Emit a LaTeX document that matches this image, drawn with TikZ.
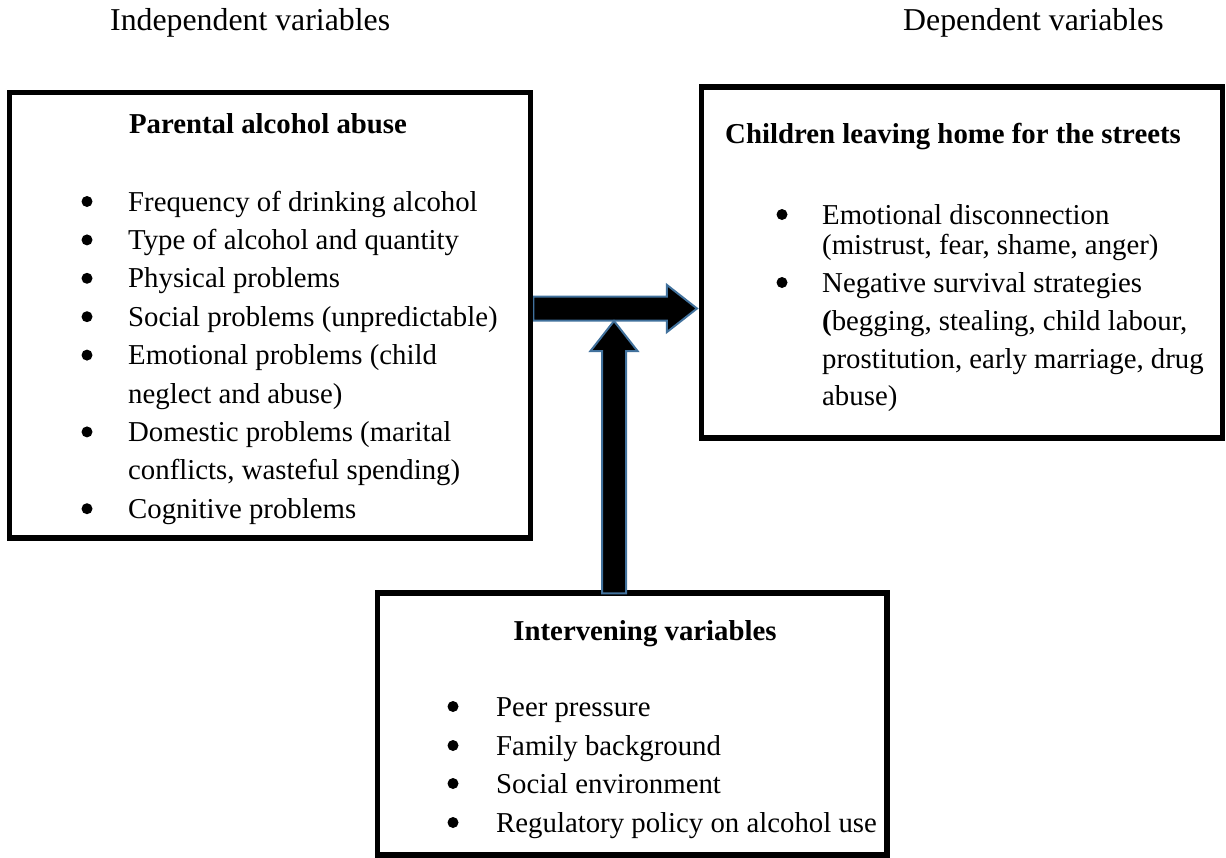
\documentclass[tikz,border=0pt]{standalone}
\usepackage{fontspec}
\setmainfont{Liberation Serif}
\usetikzlibrary{calc}
\definecolor{arrowblue}{RGB}{65,113,156}
\begin{document}
\begin{tikzpicture}[x=1pt,y=-1pt,
  box/.style={draw=black,line width=5.5pt,inner sep=0pt},
  txt/.style={anchor=base west,inner sep=0pt,font=\fontsize{28.8}{34}\selectfont},
  ttl/.style={inner sep=0pt,font=\fontsize{28.8}{34}\selectfont\bfseries},
  hdr/.style={anchor=base west,inner sep=0pt,font=\fontsize{31.8}{36}\selectfont},
  fat/.style={fill=black,draw=arrowblue,line width=2pt,line join=miter},
  bul/.style={fill=black}]
\useasboundingbox (0,0) rectangle (1226,857);

% headers
\node[hdr] (hind) at (110,30) {Independent variables};
\node[hdr] (hdep) at (903,30) {Dependent variables};

% left box
\node[box,minimum width=521pt,minimum height=445.5pt] (iv) at (270,315.25) {};

% horizontal arrow (drawn before the right box so its border stays on top)
\coordinate (hs) at ($(iv.east)+(0,-6.75)$);
\node[box,minimum width=520.75pt,minimum height=351pt] (dv) at (962.1,262.5) {};
\coordinate (ht) at ($(dv.west |- hs)+(-2,0)$);
\draw[fat] ($(hs)+(0,-12)$) -- ($(ht)+(-30,-12)$) -- ($(ht)+(-30,-23.5)$) -- (ht)
  -- ($(ht)+(-30,23.5)$) -- ($(ht)+(-30,12)$) -- ($(hs)+(0,12)$) -- cycle;
\node[box,minimum width=521pt,minimum height=445.5pt] at (iv) {};

% bottom box
\node[box,minimum width=509.5pt,minimum height=262pt] (mv) at (632.25,724) {};

% vertical arrow
\coordinate (vs) at ($(mv.north)+(-18.25,3)$);
\coordinate (vt) at ($(vs |- hs)+(0,12.5)$);
\draw[fat] ($(vs)+(-12,0)$) -- ($(vt)+(-12,30)$) -- ($(vt)+(-23.5,30)$) -- (vt)
  -- ($(vt)+(23.5,30)$) -- ($(vt)+(12,30)$) -- ($(vs)+(12,0)$) -- cycle;

% titles
\node[ttl,anchor=base] (tiv) at (268,133) {Parental alcohol abuse};
\node[ttl,anchor=base west] (tdv) at (725,143) {Children leaving home for the streets};
\node[ttl,anchor=base] (tmv) at (645,640) {Intervening variables};

% left items
\node[txt] (l1) at (128,211) {Frequency of drinking alcohol};
\node[txt] (l2) at (128,249.4) {Type of alcohol and quantity};
\node[txt] (l3) at (128,287.8) {Physical problems};
\node[txt] (l4) at (128,326.2) {Social problems (unpredictable)};
\node[txt] (l5) at (128,364.6) {Emotional problems (child};
\node[txt] (l6) at (128,403) {neglect and abuse)};
\node[txt] (l7) at (128,441.4) {Domestic problems (marital};
\node[txt] (l8) at (128,479.8) {conflicts, wasteful spending)};
\node[txt] (l9) at (128,518.2) {Cognitive problems};
\foreach \y in {211,249.4,287.8,326.2,364.6,441.4,518.2}
  \fill[bul] (87,\y-9.5) circle (5.5);

% right items
\node[txt] (r1) at (822,224) {Emotional disconnection};
\node[txt] (r2) at (822,254) {(mistrust, fear, shame, anger)};
\node[txt] (r3) at (822,292) {Negative survival strategies};
\node[txt] (r4) at (822,330) {\textbf{(}begging, stealing, child labour,};
\node[txt] (r5) at (822,368) {prostitution, early marriage, drug};
\node[txt] (r6) at (822,405) {abuse)};
\foreach \y in {224,292}
  \fill[bul] (782,\y-9.5) circle (5.5);

% bottom items
\node[txt] (m1) at (496,716) {Peer pressure};
\node[txt] (m2) at (496,755) {Family background};
\node[txt] (m3) at (496,793) {Social environment};
\node[txt] (m4) at (496,832) {Regulatory policy on alcohol use};
\foreach \y in {716,755,793,832}
  \fill[bul] (453,\y-9.5) circle (5.5);
\end{tikzpicture}
\end{document}
